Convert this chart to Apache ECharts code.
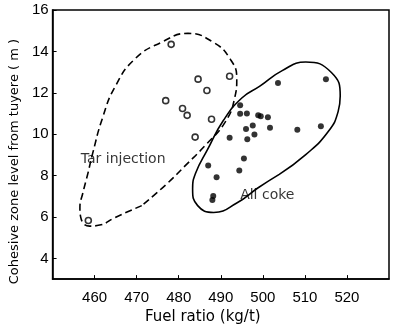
<!DOCTYPE html>
<html>
<head>
<meta charset="utf-8">
<script src="https://cdn.jsdelivr.net/npm/echarts@6/dist/echarts.min.js"></script>
<style>
  html, body { margin: 0; padding: 0; background: #fff; }
  #chart { width: 395px; height: 330px; }
</style>
</head>
<body>
<div id="chart"></div>
<script>
// tick labels
const fuelRatioTicks = [460, 470, 480, 490, 500, 510, 520];
const zoneLevelTicks = [4, 6, 8, 10, 12, 14, 16];

// tar injection (open circles): [fuel ratio, cohesive zone level]
const tarInjection = [
  [478.2, 14.34], [484.6, 12.66], [492.1, 12.8], [486.7, 12.11],
  [476.9, 11.62], [480.9, 11.24], [482.0, 10.91], [487.8, 10.72],
  [483.9, 9.86], [458.5, 5.83]
];

// all coke (solid dots)
const allCoke = [
  [503.6, 12.47], [494.6, 11.40], [494.6, 10.99], [496.2, 11.0],
  [498.9, 10.91], [499.5, 10.87], [501.2, 10.82], [497.6, 10.42],
  [496.0, 10.25], [501.7, 10.31], [508.2, 10.22], [498.0, 9.99],
  [492.1, 9.83], [496.3, 9.76], [495.5, 8.83], [487.0, 8.49],
  [494.4, 8.25], [489.0, 7.92], [488.2, 7.02], [488.0, 6.82],
  [515.0, 12.66], [513.8, 10.38]
];

// envelope outlines drawn round each group
const tarEnvelope = [
  [471.2, 6.55], [464.9, 5.98], [461.2, 5.61], [458.8, 5.56], [456.7, 5.98],
  [456.5, 6.46], [457.2, 7.16], [458.4, 8.11], [459.5, 9.05], [461.9, 10.80],
  [464.9, 12.31], [469.6, 13.64], [475.9, 14.44], [482.2, 14.87], [488.2, 14.44],
  [492.2, 13.64], [493.8, 12.69], [493.3, 11.75], [491.0, 10.57], [486.4, 9.48],
  [481.8, 8.53], [477.1, 7.59], [471.2, 6.55]
];
const cokeEnvelope = [
  [503.9, 8.06], [498.8, 7.40], [493.9, 6.69], [488.3, 6.22], [484.5, 6.55],
  [483.3, 7.35], [484.0, 8.11], [486.8, 9.24], [490.6, 10.66], [495.0, 11.75],
  [499.2, 12.31], [504.6, 13.07], [510.2, 13.49], [516.3, 12.98], [518.4, 11.84],
  [517.9, 11.09], [515.6, 10.14], [510.2, 9.01], [503.9, 8.06]
];

// group labels
const groupLabels = [
  { name: 'Tar injection', value: [456.7, 8.77] },
  { name: 'All coke', value: [494.6, 7.05] }
];

const chart = echarts.init(document.getElementById('chart'));

const tickFont = 'Liberation Sans, Arial, sans-serif';
const textFont = 'DejaVu Sans, sans-serif';

chart.setOption({
  animation: false,
  backgroundColor: '#fff',
  grid: {
    left: 50,
    right: 6,
    top: 10,
    bottom: 45,
    show: true,
    borderColor: '#000',
    borderWidth: 1.5
  },
  xAxis: {
    type: 'value',
    min: 450,
    max: 530,
    name: 'Fuel ratio (kg/t)',
    nameLocation: 'middle',
    nameGap: 30,
    nameTextStyle: { color: '#000', fontSize: 15, fontFamily: textFont, padding: [0, 0, 0, -36] },
    axisLine: { lineStyle: { color: '#000', width: 1.5 } },
    axisTick: { inside: true, length: 4, customValues: fuelRatioTicks, lineStyle: { color: '#000' } },
    axisLabel: { customValues: fuelRatioTicks, color: '#000', fontSize: 15, fontFamily: tickFont, margin: 11 },
    splitLine: { show: false }
  },
  yAxis: {
    type: 'value',
    min: 3,
    max: 16,
    name: 'Cohesive zone level from tuyere ( m )',
    nameLocation: 'middle',
    nameGap: 28,
    nameTextStyle: { color: '#000', fontSize: 13, fontFamily: textFont, padding: [0, 34, 0, 0] },
    axisLine: { lineStyle: { color: '#000', width: 1.5 } },
    axisTick: { inside: true, length: 4, customValues: zoneLevelTicks, lineStyle: { color: '#000' } },
    axisLabel: { customValues: zoneLevelTicks, color: '#000', fontSize: 15, fontFamily: tickFont, margin: 4 },
    splitLine: { show: false }
  },
  series: [
    {
      name: 'Tar injection envelope',
      type: 'line',
      data: tarEnvelope,
      smooth: true,
      symbol: 'none',
      silent: true,
      lineStyle: { color: '#000', width: 1.6, type: [7, 4] }
    },
    {
      name: 'All coke envelope',
      type: 'line',
      data: cokeEnvelope,
      smooth: true,
      symbol: 'none',
      silent: true,
      lineStyle: { color: '#000', width: 1.6 }
    },
    {
      name: 'Tar injection',
      type: 'scatter',
      data: tarInjection,
      symbol: 'circle',
      symbolSize: 6,
      itemStyle: { color: '#fff', borderColor: '#000', borderWidth: 1.6 }
    },
    {
      name: 'All coke',
      type: 'scatter',
      data: allCoke,
      symbol: 'circle',
      symbolSize: 6,
      itemStyle: { color: '#000' }
    },
    {
      name: 'labels',
      type: 'scatter',
      data: groupLabels,
      symbolSize: 0,
      silent: true,
      label: {
        show: true,
        position: 'right',
        distance: 0,
        formatter: '{b}',
        color: '#000',
        fontSize: 14,
        fontFamily: textFont
      }
    }
  ]
});
</script>
</body>
</html>
